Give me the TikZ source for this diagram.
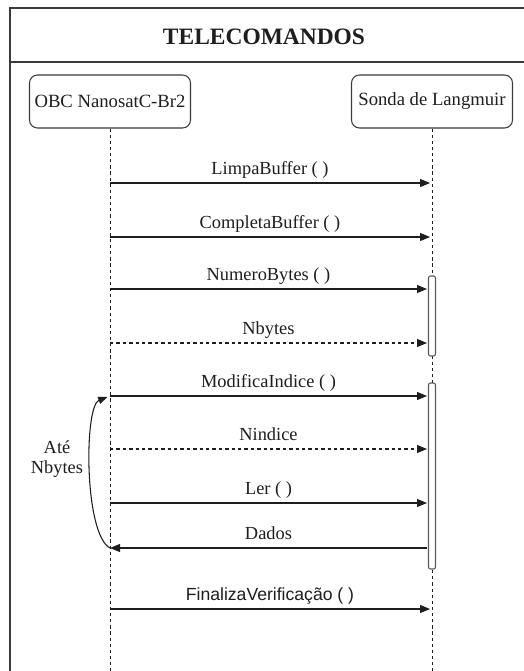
\documentclass[tikz,border=0pt]{standalone}
\usepackage{fontspec}
\setmainfont{Liberation Serif}
\newfontfamily\finfont{Liberation Sans}
\usetikzlibrary{arrows.meta}
\definecolor{framec}{HTML}{3A3A3A}
\definecolor{inkc}{HTML}{1E1E1E}
\definecolor{barc}{HTML}{5A5A5A}

\tikzset{
  partbox/.style={draw=framec, line width=0.8pt, rounded corners=6pt, fill=white,
    minimum width=120.75pt, minimum height=39.75pt, inner sep=0pt,
    text=inkc, font=\rmfamily\fontsize{14}{16}\selectfont},
  lifeline/.style={draw=inkc, line width=0.6pt, dash pattern=on 2.4pt off 2.2pt},
  actbar/.style={draw=barc, line width=0.8pt, fill=white, rounded corners=1.5pt,
    minimum width=5.25pt, inner sep=0pt},
  msgcall/.style={draw=inkc, line width=0.8pt, -{Triangle[length=7.5pt,width=6pt]}},
  msgreply/.style={msgcall, dash pattern=on 2.6pt off 2.2pt},
  msglabel/.style={text=inkc, font=\rmfamily\fontsize{13.8}{15}\selectfont, inner sep=0pt,
    text height=9.5pt, text depth=2.5pt, yshift=10pt},
  looparrow/.style={draw=inkc, line width=0.8pt, -{Triangle[length=7pt,width=5.5pt]}}
}

\begin{document}
\begin{tikzpicture}[x=0.75pt,y=-0.75pt]
  \useasboundingbox (0,0) rectangle (524,671);
  \fill[white] (0,0) rectangle (524,671);

  % ============================================================
  %                       FRAME
  % ============================================================
  \draw[framec, line width=1.1pt] (10,671) -- (10,8) -- (530,8);
  \draw[framec, line width=1.1pt] (10,62) -- (530,62);
  \node[text=inkc, font=\rmfamily\fontsize{17.6}{20}\selectfont\bfseries] (title) at (264,37) {TELECOMANDOS};

  % ============================================================
  %                       PARTICIPANTS
  % ============================================================
  \def\xObc{110}
  \def\xSonda{432}

  \node[partbox] (obc) at (\xObc,101.5) {OBC NanosatC-Br2};
  \node[partbox] (sonda) at (\xSonda,101.5) {Sonda de Langmuir};

  \coordinate (obcEnd) at (\xObc,671);
  \coordinate (sondaEnd) at (\xSonda,671);
  \draw[lifeline] (obc.south) -- (obcEnd);
  \draw[lifeline] (sonda.south) -- (sondaEnd);

  % activation bars
  \node[actbar, minimum height=60pt] (act1) at (\xSonda,316) {};
  \node[actbar, minimum height=139.5pt] (act2) at (\xSonda,476) {};

  % ============================================================
  %                       MESSAGES
  % ============================================================
  \foreach \yy/\ex/\txt/\kind [count=\i] in {
      183/430/LimpaBuffer ( )/msgcall,
      237/430/CompletaBuffer ( )/msgcall,
      289/427/NumeroBytes ( )/msgcall,
      343/427/Nbytes/msgreply,
      396/427/ModificaIndice ( )/msgcall,
      449/427/Nindice/msgreply,
      503/427/Ler ( )/msgcall} {
    \coordinate (src\i) at (\xObc,\yy);
    \coordinate (dst\i) at (\ex,\yy);
    \draw[\kind] (src\i) -- (dst\i) node[msglabel, midway] (lbl\i) {\txt};
  }

  % reply with data
  \coordinate (dadosSrc) at (427,548);
  \coordinate (dadosDst) at (\xObc,548);
  \draw[msgcall] (dadosSrc) -- (dadosDst) node[msglabel, midway] (lblDados) {Dados};

  % closing command
  \coordinate (finSrc) at (\xObc,609);
  \coordinate (finDst) at (430,609);
  \draw[msgcall] (finSrc) -- (finDst)
    node[msglabel, midway, font=\finfont\fontsize{13.2}{15}\selectfont] (lblFin) {FinalizaVerificação ( )};

  % ============================================================
  %                       LOOP
  % ============================================================
  \draw[looparrow, shorten >=2pt] (dadosDst) .. controls +(-26,-14) and +(-26,10) .. (src5);
  \node[text=inkc, font=\rmfamily\fontsize{13.8}{15}\selectfont, align=center] (loopLbl) at (57,459) {Até\\Nbytes};

\end{tikzpicture}
\end{document}
